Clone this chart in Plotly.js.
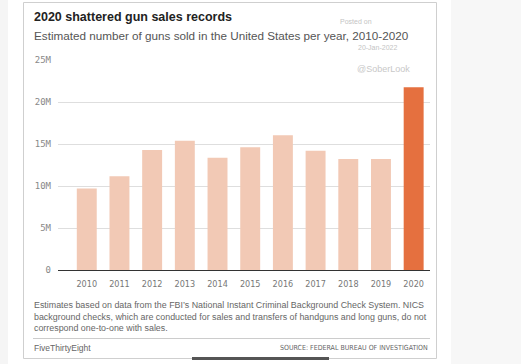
<!DOCTYPE html>
<html><head><meta charset="utf-8">
<script src="https://cdn.plot.ly/plotly-3.0.1.min.js"></script>
<style>html,body{margin:0;padding:0;background:#fff}#c{width:521px;height:364px}</style>
</head><body><div id="c"></div>
<script>
const years = ['2010','2011','2012','2013','2014','2015','2016','2017','2018','2019','2020'];
const gunsSold = [9.7, 11.15, 14.3, 15.4, 13.35, 14.6, 16.05, 14.2, 13.2, 13.2, 21.75];
const barColors = ['#f2c9b5','#f2c9b5','#f2c9b5','#f2c9b5','#f2c9b5','#f2c9b5','#f2c9b5','#f2c9b5','#f2c9b5','#f2c9b5','#e5703f'];
const yTickVals = [0,5,10,15,20,25];
const yTickText = ['0','5M','10M','15M','20M','25M'];
const peakLabel = '22M';

// pixel -> paper helpers (plot area: x 58..430, y 60..270)
const L = 58, R = 430, T = 60, B = 270;
const px = v => (v - L) / (R - L);
const py = v => (B - v) / (B - T);

function txt(text, x, y, opts) {
  return Object.assign({text: text, xref: 'paper', yref: 'paper', x: px(x), y: py(y),
    showarrow: false, xanchor: 'left', yanchor: 'middle', align: 'left'}, opts);
}

const annotations = [
  txt('<b>2020 shattered gun sales records</b>', 32, 17, {font: {family: 'Liberation Sans, Arial, sans-serif', size: 12.5, color: '#222'}}),
  txt('Estimated number of guns sold in the United States per year, 2010-2020', 32, 35, {font: {family: 'Liberation Sans, Arial, sans-serif', size: 11.7, color: '#555'}}),
  txt('Posted on', 338, 22, {font: {family: 'Liberation Sans, Arial, sans-serif', size: 7, color: '#c4c4c4'}}),
  txt('20-Jan-2022', 356, 47, {font: {family: 'Liberation Sans, Arial, sans-serif', size: 7, color: '#c4c4c4'}}),
  txt('@SoberLook', 355, 69, {font: {family: 'Liberation Sans, Arial, sans-serif', size: 9, color: '#c8c8c8'}}),
  txt('Estimates based on data from the FBI\u2019s National Instant Criminal Background Check System. NICS<br>background checks, which are conducted for sales and transfers of handguns and long guns, do not<br>correspond one-to-one with sales.',
      32, 316.5, {font: {family: 'Liberation Sans, Arial, sans-serif', size: 8.9, color: '#666'}}),
  txt('FiveThirtyEight', 32, 348, {font: {family: 'Liberation Sans, Arial, sans-serif', size: 8.5, color: '#666'}}),
  txt('SOURCE: FEDERAL BUREAU OF INVESTIGATION', 430, 348, {xanchor: 'right', font: {family: 'DejaVu Sans Condensed, Liberation Sans Narrow, sans-serif', size: 7, color: '#666'}}),
  {text: '<b>' + peakLabel + '</b>', x: years[10], y: gunsSold[10], xref: 'x', yref: 'y', showarrow: false,
   yanchor: 'bottom', yshift: 1, font: {family: 'DejaVu Sans Mono, monospace', size: 8.5, color: '#222'}}
];

const shapes = [
  {type: 'rect', xref: 'paper', yref: 'paper', x0: px(0), x1: px(8), y0: py(0), y1: py(364), fillcolor: '#f5f5f5', line: {width: 0}, layer: 'below'},
  {type: 'rect', xref: 'paper', yref: 'paper', x0: px(451), x1: px(521), y0: py(0), y1: py(364), fillcolor: '#f7f7f7', line: {width: 0}, layer: 'below'},
  {type: 'rect', xref: 'paper', yref: 'paper', x0: px(23.5), x1: px(436.5), y0: py(2.5), y1: py(358.5), line: {color: '#cfcfcf', width: 1}, layer: 'below'},
  {type: 'line', xref: 'paper', yref: 'paper', x0: px(33), x1: px(430), y0: py(338.5), y1: py(338.5), line: {color: '#cccccc', width: 1.2}},
  {type: 'rect', xref: 'paper', yref: 'paper', x0: px(192), x1: px(329), y0: py(357), y1: py(360), fillcolor: '#555', line: {width: 0}}
];

const data = [{
  type: 'bar', x: years, y: gunsSold, marker: {color: barColors, line: {width: 0}},
  hoverinfo: 'skip', cliponaxis: false
}];

const layout = {
  width: 521, height: 364,
  margin: {l: L, r: 521 - R, t: T, b: 364 - B, pad: 0},
  paper_bgcolor: 'rgba(0,0,0,0)', plot_bgcolor: 'rgba(0,0,0,0)',
  showlegend: false, bargap: 0.39,
  xaxis: {type: 'category', range: [-0.88, 10.5], showgrid: false, zeroline: false,
    showline: false, ticks: '', ticklabelstandoff: 7,
    tickfont: {family: 'DejaVu Sans Condensed, Liberation Sans Narrow, sans-serif', size: 9, color: '#777'}},
  yaxis: {range: [0, 25], tickvals: yTickVals, ticktext: yTickText, showgrid: true,
    gridcolor: '#dedede', gridwidth: 1, zeroline: true, zerolinecolor: '#333', zerolinewidth: 1,
    showline: false, ticks: '', ticklabelstandoff: 6,
    tickfont: {family: 'DejaVu Sans Mono, monospace', size: 9, color: '#888'}},
  annotations: annotations, shapes: shapes
};

Plotly.newPlot('c', data, layout, {staticPlot: true, displayModeBar: false});
</script></body></html>
